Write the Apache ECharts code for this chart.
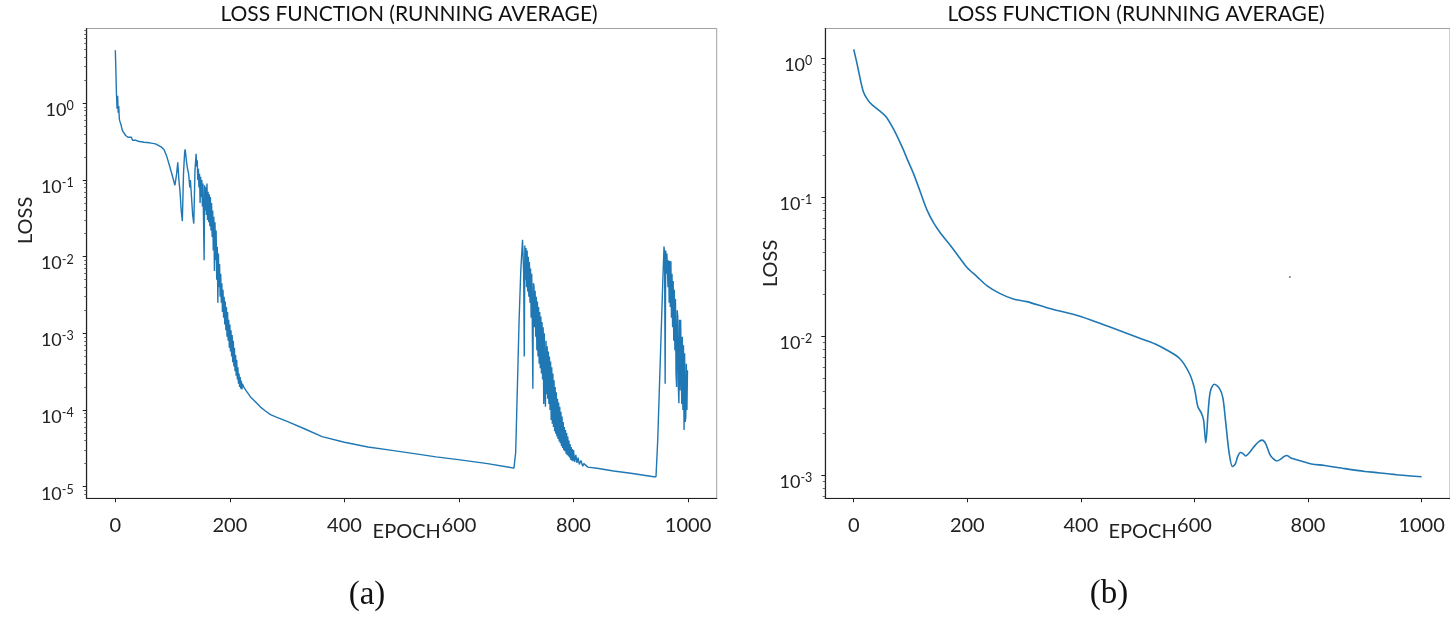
<!DOCTYPE html>
<html><head><meta charset="utf-8">
<script src="https://cdn.jsdelivr.net/npm/echarts@6/dist/echarts.min.js"></script>
<style>html,body{margin:0;padding:0;background:#fff}#c{width:1450px;height:623px}</style>
</head><body><div id="c"></div>
<script>
// ---- Panel (a) data: running-average loss per epoch ----
const epochsA = [0,1,2,3,4,5,6,7,8,10,12,14,16,18,20,22,25,28,30,35,40,50,60,70,80,85,90,95,100,104,107,109,111,113,115,117,119,121,122,124,126,128,130,131,133,135,137,139,
141,142,143,144,145,146,147,148,149,150,151,152,153,154,155,156,157,158,159,160,161,162,163,164,165,166,167,168,169,170,171,172,173,174,175,176,177,178,179,180,181,182,183,184,185,186,187,188,189,190,191,192,193,194,195,196,197,198,199,200,201,202,203,204,205,206,207,208,209,210,211,212,213,214,215,216,217,218,219,220,221,222,224,228,236,245,253,262,271,281,300,330,361,400,441,480,522,560,602,650,690,696,
699,702,705,708,711,712,713,714,715,716,717,718,719,720,721,722,723,724,725,726,727,728,729,730,731,732,733,734,735,736,737,738,739,740,741,742,743,744,745,746,747,748,749,750,751,752,753,754,755,756,757,758,759,760,761,762,763,764,765,766,767,768,769,770,771,772,773,774,775,776,777,778,779,780,781,782,783,784,785,786,787,788,789,790,791,792,793,794,795,796,797,798,799,800,802,804,806,808,810,813,816,818,825,841,870,900,940,944,
947,950,953,956,958,959,960,961,962,963,964,965,966,967,968,969,970,971,972,973,974,975,976,977,978,979,980,981,982,983,984,985,986,987,988,989,990,991,992,993,994,995,996,997,998,999];
const lossA = [4.9,2.6,1.3,0.85,1.25,0.75,0.92,0.62,0.58,0.52,0.45,0.42,0.44,0.38,0.37,0.36,0.35,0.36,0.33,0.33,0.32,0.31,0.305,0.295,0.27,0.25,0.2,0.15,0.11,0.085,0.12,0.17,0.1,0.07,0.04,0.029,0.12,0.23,0.25,0.18,0.14,0.12,0.08,0.1,0.06,0.035,0.027,0.13,
0.22,0.15,0.18,0.10,0.14,0.08,0.12,0.05,0.11,0.06,0.10,0.045,0.09,0.03,0.009,0.085,0.04,0.08,0.035,0.09,0.03,0.07,0.028,0.065,0.025,0.06,0.022,0.05,0.018,0.04,0.012,0.033,0.0065,0.028,0.009,0.022,0.005,0.0135,0.0025,0.011,0.004,0.008,0.003,0.006,0.0025,0.0045,0.0019,0.0037,0.0016,0.003,0.0013,0.0026,0.0011,0.0022,0.0009,0.0019,0.0008,0.0015,0.00065,0.0013,0.00058,0.0011,0.0005,0.00095,0.00042,0.0008,0.00037,0.00065,0.00032,0.00052,0.00028,0.00045,0.00025,0.00036,0.00022,0.0003,0.0002,0.00027,0.00019,0.00024,0.000185,0.00022,0.0002,0.00018,0.000148,0.000127,0.00011,0.000097,0.000087,0.000081,0.000071,0.000057,0.000045,0.000038,0.000033,0.00003,0.000027,0.0000245,0.0000224,0.00002,0.0000178,0.0000175,
0.000028,0.0002,0.0015,0.0068,0.0166,0.016,0.006,0.0005,0.014,0.005,0.013,0.004,0.012,0.0035,0.010,0.003,0.0085,0.0025,0.007,0.0016,0.006,0.0015,0.00019,0.0045,0.0041,0.0012,0.0036,0.0009,0.003,0.0006,0.0026,0.0005,0.0022,0.0004,0.0019,0.00035,0.00166,0.0003,0.0014,0.00025,0.0012,0.00012,0.001,0.0002,0.00011,0.0008,0.00016,0.00068,0.00014,0.00058,0.00012,0.0005,0.0001,0.00043,0.000074,0.00036,0.000066,0.0003,0.00006,0.000245,0.000053,0.0002,0.000049,0.00017,0.000045,0.00014,0.000042,0.000125,0.000039,0.00011,0.000037,0.000095,0.000034,0.000082,0.000032,0.00007,0.00003,0.00006,0.000029,0.000055,0.000027,0.00005,0.000026,0.000045,0.000025,0.00004,0.000024,0.000036,0.0000225,0.000033,0.000022,0.000031,0.0000215,0.00003,0.000021,0.000026,0.0000205,0.000024,0.0000195,0.000022,0.0000185,0.00002,0.000018,0.0000174,0.000016,0.000015,0.0000135,0.0000135,
0.00004,0.0002,0.001,0.005,0.0135,0.011,0.00022,0.012,0.006,0.011,0.0105,0.004,0.009,0.0025,0.0088,0.0022,0.0087,0.0016,0.006,0.0012,0.0048,0.0008,0.0037,0.0006,0.0028,0.0003,0.0002,0.002,0.00166,0.0002,0.000123,0.0015,0.00018,0.0015,0.00148,0.00012,0.0009,0.0001,0.0007,0.000055,0.00055,0.00007,0.00008,0.0004,0.0001,0.00033];

// ---- Panel (b) data ----
const epochsB = [0,5,10,17,25,33,45,57,70,85,95,105,117,129,141,153,170,185,200,217,235,257,281,305,345,401,449,505,530,552,574,591,600,606,612,616,620,624,628,635,644,650,655,661,667,672,676,681,686,690,697,704,712,719,724,728,733,737,745,752,758,763,767,771,788,806,829,865,900,921,960,1000];
const lossB = [1.16,0.95,0.76,0.575,0.5,0.46,0.42,0.38,0.31,0.231,0.185,0.149,0.11,0.081,0.065,0.055,0.045,0.0373,0.031,0.0268,0.023,0.0203,0.0185,0.0177,0.0158,0.0138,0.0117,0.0096,0.0088,0.0079,0.0069,0.0054,0.0042,0.0031,0.0028,0.0025,0.0017,0.0028,0.004,0.0045,0.0042,0.0036,0.0024,0.00145,0.00115,0.0012,0.00135,0.00145,0.00142,0.00137,0.00145,0.00158,0.00172,0.00178,0.00172,0.00158,0.0014,0.00133,0.00126,0.0013,0.00136,0.00138,0.00135,0.00132,0.00126,0.0012,0.00117,0.00111,0.00106,0.00104,0.001,0.00097];
const strayDotB = [[768, 0.0266]];

// ---- ticks & text ----
const xTicks = [0,200,400,600,800,1000];
const yTicksA = [1e-5,1e-4,1e-3,1e-2,1e-1,1];
const yTicksB = [1e-3,1e-2,1e-1,1];
const minorA = [8e-6,9e-6,2e-5,3e-5,4e-5,5e-5,6e-5,7e-5,8e-5,9e-5,2e-4,3e-4,4e-4,5e-4,6e-4,7e-4,8e-4,9e-4,2e-3,3e-3,4e-3,5e-3,6e-3,7e-3,8e-3,9e-3,0.02,0.03,0.04,0.05,0.06,0.07,0.08,0.09,0.2,0.3,0.4,0.5,0.6,0.7,0.8,0.9,2,3,4,5,6,7,8,9];
const minorB = [7e-4,8e-4,9e-4,2e-3,3e-3,4e-3,5e-3,6e-3,7e-3,8e-3,9e-3,0.02,0.03,0.04,0.05,0.06,0.07,0.08,0.09,0.2,0.3,0.4,0.5,0.6,0.7,0.8,0.9];
const titleText = 'LOSS FUNCTION (RUNNING AVERAGE)';
const xName = 'EPOCH';
const yName = 'LOSS';
const panelLabels = ['(a)', '(b)'];

const FONT = 'Lato';
const BLUE = '#1f77b4';
const DARK = '#222';

function powLabel(v) {
  const e = Math.round(Math.log10(v));
  return '{b|10}{s|' + e + '}';
}
const yLabelRich = {
  b: { fontFamily: FONT, fontSize: 18, color: DARK, padding: [14, 0, 0, 0] },
  s: { fontFamily: FONT, fontSize: 12.5, color: DARK, padding: [6, 0, 0, 0] }
};

function xAxisCfg(grid, nameShift) {
  return {
    type: 'value', gridIndex: grid, min: -50, max: 1050,
    name: xName, nameLocation: 'middle', nameGap: 23, nameMoveOverlap: false,
    nameTextStyle: { fontFamily: FONT, fontSize: 20, color: DARK, padding: [0, 0, 0, nameShift] },
    axisLine: { show: true, onZero: false, lineStyle: { color: DARK, width: 1.2 } },
    axisTick: { show: true, length: 4, lineStyle: { color: DARK }, customValues: xTicks },
    axisLabel: { fontFamily: FONT, fontSize: 20, color: DARK, margin: 17, customValues: xTicks,
      formatter: v => String(v) },
    splitLine: { show: false }
  };
}
function yMajorCfg(grid, min, max, ticks, gap, namePad) {
  return {
    type: 'log', logBase: 10, gridIndex: grid, min: min, max: max,
    name: yName, nameLocation: 'middle', nameGap: gap, nameRotate: 90, nameMoveOverlap: false,
    nameTextStyle: { fontFamily: FONT, fontSize: 20, color: DARK, padding: namePad },
    axisLine: { show: true, onZero: false, lineStyle: { color: DARK, width: 1.2 } },
    axisTick: { show: true, length: 4, lineStyle: { color: DARK }, customValues: ticks },
    axisLabel: { margin: 13, formatter: powLabel, rich: yLabelRich, customValues: ticks },
    splitLine: { show: false }
  };
}
function yMinorCfg(grid, min, max, ticks) {
  return {
    type: 'log', logBase: 10, gridIndex: grid, min: min, max: max, position: 'left',
    axisLine: { show: false, onZero: false },
    axisTick: { show: true, length: 2.5, lineStyle: { color: '#444', width: 0.8 }, customValues: ticks },
    axisLabel: { show: false },
    splitLine: { show: false }
  };
}

const chart = echarts.init(document.getElementById('c'), null, { renderer: 'canvas' });
chart.setOption({
  animation: false,
  backgroundColor: '#fff',
  title: [
    { text: titleText, left: 409, top: 4, textAlign: 'center', padding: 0,
      textStyle: { fontFamily: FONT, fontSize: 21, fontWeight: 'normal', color: '#111' } },
    { text: titleText, left: 1136, top: 4, textAlign: 'center', padding: 0,
      textStyle: { fontFamily: FONT, fontSize: 21, fontWeight: 'normal', color: '#111' } },
    { text: panelLabels[0], left: 367, top: 579, textAlign: 'center', padding: 0,
      textStyle: { fontFamily: 'Liberation Serif', fontSize: 33, fontWeight: 'normal', color: '#111' } },
    { text: panelLabels[1], left: 1109, top: 578, textAlign: 'center', padding: 0,
      textStyle: { fontFamily: 'Liberation Serif', fontSize: 33, fontWeight: 'normal', color: '#111' } }
  ],
  grid: [
    { left: 86.7, top: 28.5, width: 630, height: 469.8, show: true, borderColor: '#a0a0a0', borderWidth: 1, backgroundColor: 'transparent' },
    { left: 825.3, top: 28.5, width: 631.4, height: 469.8, show: true, borderColor: '#a0a0a0', borderWidth: 1, backgroundColor: 'transparent' }
  ],
  xAxis: [ xAxisCfg(0, 10), xAxisCfg(1, 10) ],
  yAxis: [
    yMajorCfg(0, 7.06e-6, 9.44, yTicksA, 51, [0, 0, 0, 86]),
    yMinorCfg(0, 7.06e-6, 9.44, minorA),
    yMajorCfg(1, 6.79e-4, 1.639, yTicksB, 45, [0, 0, 0, 0]),
    yMinorCfg(1, 6.79e-4, 1.639, minorB)
  ],
  series: [
    { type: 'line', xAxisIndex: 0, yAxisIndex: 0, showSymbol: false, symbol: 'none',
      lineStyle: { color: BLUE, width: 1.4 }, itemStyle: { color: BLUE },
      data: epochsA.map((e, i) => [e, lossA[i]]) },
    { type: 'line', xAxisIndex: 1, yAxisIndex: 2, showSymbol: false, symbol: 'none', smooth: 0.3,
      lineStyle: { color: BLUE, width: 1.6 }, itemStyle: { color: BLUE },
      data: epochsB.map((e, i) => [e, lossB[i]]) },
    { type: 'scatter', xAxisIndex: 1, yAxisIndex: 2, symbolSize: 2,
      itemStyle: { color: '#555' }, data: strayDotB }
  ]
});
</script></body></html>
